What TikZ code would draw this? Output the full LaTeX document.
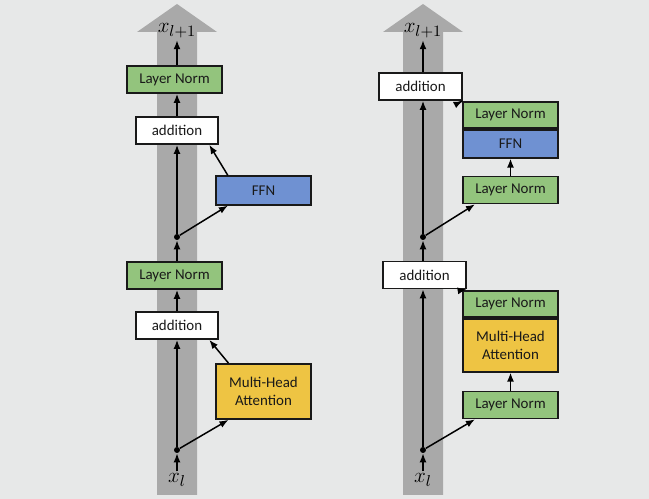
\documentclass[tikz,border=0pt]{standalone}
\usepackage{fontspec}
\setmainfont{Carlito}
\usetikzlibrary{arrows.meta,positioning}

\definecolor{bgcol}{HTML}{E7E8E8}
\definecolor{bandgray}{HTML}{A9A9A9}
\definecolor{normgreen}{HTML}{93C47D}
\definecolor{ffnblue}{HTML}{6F91D2}
\definecolor{attnyellow}{HTML}{EEC443}

\begin{document}
\begin{tikzpicture}[
  x=0.02cm,y=-0.02cm,
  block/.style={draw=black!90,line width=1pt,minimum width=1.9cm,minimum height=0.54cm,
    inner sep=0pt,text=black!90,font=\fontsize{8.5}{10}\selectfont},
  norm/.style={block,fill=normgreen},
  ffn/.style={block,fill=ffnblue,minimum height=0.57cm},
  attn/.style={block,fill=attnyellow,align=center},
  addbox/.style={block,fill=white,minimum width=1.65cm},
  junction/.style={circle,fill=black,inner sep=0pt,minimum size=1.2mm},
  vec/.style={inner sep=1pt,font=\fontsize{13}{15}\selectfont},
  arrow/.style={-{Latex[length=1.8mm,width=1.4mm]},line width=0.85pt}
]
  \fill[bgcol] (0,0) rectangle (649,499);
  \useasboundingbox (0,0) rectangle (649,499);

  % residual streams
  \fill[bandgray] (157,495) -- (157,32) -- (137,32) -- (177,4) -- (217,32) -- (197,32) -- (197,495) -- cycle;
  \fill[bandgray] (403,495) -- (403,32) -- (383,32) -- (423,4) -- (463,32) -- (443,32) -- (443,495) -- cycle;

  % post-LN (left)
  \node[vec] (xlA) at (177,480) {$x_l$};
  \node[vec] (xoutA) at (177,31) {$x_{l+1}$};
  \node[junction] (jB) at (177,450) {};
  \node[attn,minimum height=1.1cm] (mhaA) at (263.5,391.5) {Multi-Head\\Attention};
  \node[addbox] (addB) at (177,325.5) {addition};
  \node[norm] (lnB) at (174.5,275.5) {Layer Norm};
  \node[junction] (jA) at (177,237) {};
  \node[ffn] (ffnA) at (263.5,190.5) {FFN};
  \node[addbox] (addA) at (177,130.5) {addition};
  \node[norm] (lnA) at (174.5,79.5) {Layer Norm};

  \draw[arrow] (xlA) -- (jB);
  \draw[arrow] (jB) -- (addB);
  \draw[arrow] (jB) -- (mhaA.219);
  \draw[arrow] (mhaA.141) -- (addB.336);
  \draw[arrow] (addB.north) -- (addB.north |- lnB.south);
  \draw[arrow] (addB.north |- lnB.north) -- (jA);
  \draw[arrow] (jA) -- (addA);
  \draw[arrow] (jA) -- (ffnA.203);
  \draw[arrow] (ffnA.157) -- (addA.336);
  \draw[arrow] (addA.north) -- (addA.north |- lnA.south);
  \draw[arrow] (addA.north |- lnA.north) -- (xoutA);

  % pre-LN (right)
  \node[vec] (xlB) at (423,480) {$x_l$};
  \node[vec] (xoutB) at (423,31) {$x_{l+1}$};
  \node[junction] (jD) at (423,450) {};
  \node[norm] (lnF) at (510.5,405) {Layer Norm};
  \node[norm,minimum height=0.52cm] (lnE) at (510.5,304) {Layer Norm};
  \node[attn,minimum height=1.06cm,below=0pt of lnE] (mhaB) {Multi-Head\\Attention};
  \node[addbox] (addD) at (424.5,275) {addition};
  \node[junction] (jC) at (423,237) {};
  \node[norm] (lnD) at (510.5,190) {Layer Norm};
  \node[norm,minimum height=0.52cm] (lnC) at (510.5,115) {Layer Norm};
  \node[ffn,minimum height=0.56cm,below=0pt of lnC] (ffnC) {FFN};
  \node[addbox] (addC) at (420.5,86.5) {addition};

  \draw[arrow] (xlB) -- (jD);
  \draw[arrow] (jD) -- (jD |- addD.south);
  \draw[arrow] (jD) -- (lnF.202);
  \draw[arrow] (lnF.north) -- (mhaB.south);
  \draw[arrow] (lnE.north west) -- (addD.south east);
  \draw[arrow] (jD |- addD.north) -- (jC);
  \draw[arrow] (jC) -- (jC |- addC.south);
  \draw[arrow] (jC) -- (lnD.202);
  \draw[arrow] (lnD.north) -- (ffnC.south);
  \draw[arrow] (lnC.north west) -- (addC.south east);
  \draw[arrow] (jC |- addC.north) -- (xoutB);
\end{tikzpicture}
\end{document}
